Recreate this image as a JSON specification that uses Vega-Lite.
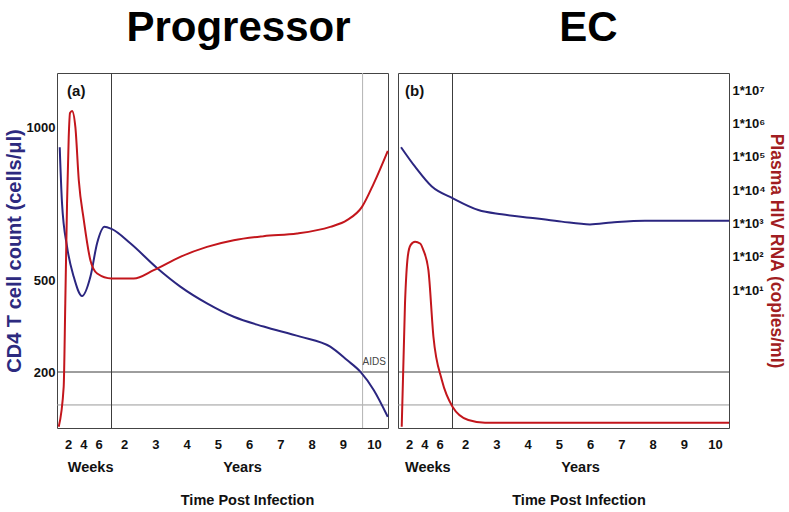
{
  "$schema": "https://vega.github.io/schema/vega-lite/v6.json",
  "background": "white",
  "padding": {"left": 3, "top": 6, "right": 0, "bottom": 0},
  "spacing": 3,
  "datasets": {
    "progressor_cd4": [
      {"week": 0.91, "cd4": 937}, {"week": 1.21, "cd4": 754}, {"week": 1.87, "cd4": 611},
      {"week": 2.75, "cd4": 512}, {"week": 3.84, "cd4": 449}, {"week": 4.93, "cd4": 512},
      {"week": 5.82, "cd4": 623}, {"week": 6.78, "cd4": 676}, {"week": 7.7, "cd4": 669},
      {"week": 114.5, "cd4": 622}, {"week": 158.9, "cd4": 541}, {"week": 197.7, "cd4": 480},
      {"week": 242.1, "cd4": 425}, {"week": 286.6, "cd4": 381}, {"week": 336.3, "cd4": 349},
      {"week": 397.2, "cd4": 316}, {"week": 447.2, "cd4": 283}, {"week": 475.1, "cd4": 239},
      {"week": 497.2, "cd4": 201}, {"week": 519.5, "cd4": 141}, {"week": 542.9, "cd4": 53}
    ],
    "progressor_rna": [
      {"week": 0.78, "log10_rna": -3.1}, {"week": 1.43, "log10_rna": -1.9}, {"week": 1.64, "log10_rna": 0.61},
      {"week": 1.87, "log10_rna": 3.61}, {"week": 2.09, "log10_rna": 5.6}, {"week": 2.26, "log10_rna": 6.32},
      {"week": 2.53, "log10_rna": 6.38}, {"week": 2.96, "log10_rna": 5.9}, {"week": 3.41, "log10_rna": 4.3},
      {"week": 4.07, "log10_rna": 3.1}, {"week": 4.93, "log10_rna": 1.9}, {"week": 5.82, "log10_rna": 1.5},
      {"week": 7.7, "log10_rna": 1.35}, {"week": 120.2, "log10_rna": 1.35}, {"week": 153.4, "log10_rna": 1.6},
      {"week": 197.7, "log10_rna": 2.0}, {"week": 242.1, "log10_rna": 2.3}, {"week": 286.6, "log10_rna": 2.5},
      {"week": 336.3, "log10_rna": 2.62}, {"week": 391.9, "log10_rna": 2.7}, {"week": 447.2, "log10_rna": 2.9},
      {"week": 475.1, "log10_rna": 3.1}, {"week": 500, "log10_rna": 3.5}, {"week": 519.5, "log10_rna": 4.2},
      {"week": 542.9, "log10_rna": 5.18}
    ],
    "ec_cd4": [
      {"week": 0.95, "cd4": 937}, {"week": 2.79, "cd4": 873}, {"week": 4.99, "cd4": 808},
      {"week": 7.7, "cd4": 770}, {"week": 126.2, "cd4": 731}, {"week": 165.1, "cd4": 717},
      {"week": 220.5, "cd4": 704}, {"week": 264.9, "cd4": 693}, {"week": 312, "cd4": 684},
      {"week": 348.1, "cd4": 690}, {"week": 403.5, "cd4": 696}, {"week": 459, "cd4": 696},
      {"week": 543.3, "cd4": 696}
    ],
    "ec_rna": [
      {"week": 1.04, "log10_rna": -3.1}, {"week": 1.47, "log10_rna": 0.6}, {"week": 1.83, "log10_rna": 2.0},
      {"week": 2.2, "log10_rna": 2.35}, {"week": 2.79, "log10_rna": 2.45}, {"week": 3.45, "log10_rna": 2.4},
      {"week": 3.88, "log10_rna": 2.2}, {"week": 4.54, "log10_rna": 1.6}, {"week": 5.2, "log10_rna": -0.4},
      {"week": 6.3, "log10_rna": -1.7}, {"week": 7.7, "log10_rna": -2.5}, {"week": 109.5, "log10_rna": -2.9},
      {"week": 137.3, "log10_rna": -2.98}, {"week": 543.3, "log10_rna": -2.98}
    ]
  },
  "hconcat": [
    {
      "width": 331,
      "height": 355,
      "title": {"text": "Progressor", "dx": 16},
      "resolve": {"scale": {"y": "independent"}, "axis": {"x": "independent"}},
      "layer": [
        {
          "layer": [
            {"data": {"values": [{"cd4": 92}]}, "mark": {"type": "rule", "color": "#9a9a9a", "strokeWidth": 1}, "encoding": {"y": {"field": "cd4", "type": "quantitative"}}},
            {"data": {"values": [{"cd4": 200}]}, "mark": {"type": "rule", "color": "#3c3c3c", "strokeWidth": 1}, "encoding": {"y": {"field": "cd4", "type": "quantitative"}}},
            {"data": {"values": [{"week": 7.7}]}, "mark": {"type": "rule", "color": "#3c3c3c", "strokeWidth": 1}, "encoding": {"x": {"field": "week", "type": "quantitative"}}},
            {"data": {"values": [{"week": 501}]}, "mark": {"type": "rule", "color": "#b4b4b4", "strokeWidth": 1}, "encoding": {"x": {"field": "week", "type": "quantitative"}}},
            {
              "data": {"name": "progressor_cd4"},
              "mark": {"type": "line", "interpolate": "monotone", "color": "#2b2680", "strokeWidth": 2},
              "encoding": {
                "x": {"field": "week", "type": "quantitative",
                  "scale": {"domain": [0.553, 7.7, 83.2, 543.3], "range": [0, 54.5, 54.5, 331], "nice": false, "zero": false},
                  "axis": {"values": [2, 4, 6, 104, 156, 208, 260, 312, 364, 416, 468, 520], "tickCount": 100, "labelExpr": "datum.value < 52 ? format(datum.value, 'd') : format(datum.value / 52, 'd')", "title": null, "labelPadding": 10, "labelFontSize": 13, "labelOverlap": false, "labelFlush": false, "labelBound": false}},
                "y": {"field": "cd4", "type": "quantitative",
                  "scale": {"domain": [16.4, 1180.3], "nice": false, "zero": false},
                  "axis": {"values": [200, 500, 1000], "tickCount": 100, "format": "d", "labelOverlap": false, "title": "CD4 T cell count (cells/μl)", "titleColor": "#2d2a7f", "titleFontSize": 20, "titlePadding": 2, "labelPadding": 2, "labelFontSize": 13}}
              }
            },
            {"data": {"values": [{"label": "(a)", "week": 1.87, "cd4": 1121}]}, "mark": {"type": "text", "align": "left", "baseline": "middle", "font": "Liberation Sans", "fontWeight": "bold", "fontSize": 15, "color": "#111"}, "encoding": {"x": {"field": "week", "type": "quantitative"}, "y": {"field": "cd4", "type": "quantitative"}, "text": {"field": "label"}}},
            {"data": {"values": [{"label": "AIDS", "week": 539.8, "cd4": 233}]}, "mark": {"type": "text", "align": "right", "baseline": "middle", "font": "Liberation Sans", "fontSize": 10, "color": "#444"}, "encoding": {"x": {"field": "week", "type": "quantitative"}, "y": {"field": "cd4", "type": "quantitative"}, "text": {"field": "label"}}}
          ]
        },
        {
          "data": {"name": "progressor_rna"},
          "mark": {"type": "line", "interpolate": "monotone", "color": "#c3161c", "strokeWidth": 2},
          "encoding": {
            "x": {"field": "week", "type": "quantitative",
              "scale": {"domain": [0.553, 7.7, 83.2, 543.3], "range": [0, 54.5, 54.5, 331], "nice": false, "zero": false},
              "axis": {"orient": "bottom", "values": [4.9, 300.4], "tickCount": 100, "labelExpr": "datum.value < 52 ? 'Weeks' : 'Years'", "labelFontSize": 14.5, "labelOverlap": false, "labelFlush": false, "offset": 30, "labelPadding": 2, "title": "Time Post Infection", "titleFontSize": 14.5, "titleX": 190, "titleY": 35, "titleBaseline": "top", "titleAlign": "center"}},
            "y": {"field": "log10_rna", "type": "quantitative", "scale": {"domain": [-3.14, 7.52], "nice": false, "zero": false}, "axis": null}
          }
        }
      ]
    },
    {
      "width": 331,
      "height": 355,
      "title": {"text": "EC", "dx": 25},
      "resolve": {"scale": {"y": "independent"}, "axis": {"x": "independent"}},
      "layer": [
        {
          "layer": [
            {"data": {"values": [{"cd4": 92}]}, "mark": {"type": "rule", "color": "#9a9a9a", "strokeWidth": 1}, "encoding": {"y": {"field": "cd4", "type": "quantitative", "axis": null}}},
            {"data": {"values": [{"cd4": 200}]}, "mark": {"type": "rule", "color": "#3c3c3c", "strokeWidth": 1}, "encoding": {"y": {"field": "cd4", "type": "quantitative", "axis": null}}},
            {"data": {"values": [{"week": 7.7}]}, "mark": {"type": "rule", "color": "#3c3c3c", "strokeWidth": 1}, "encoding": {"x": {"field": "week", "type": "quantitative"}}},
            {
              "data": {"name": "ec_cd4"},
              "mark": {"type": "line", "interpolate": "monotone", "color": "#2b2680", "strokeWidth": 2},
              "encoding": {
                "x": {"field": "week", "type": "quantitative",
                  "scale": {"domain": [0.553, 7.7, 83.2, 543.3], "range": [0, 54.5, 54.5, 331], "nice": false, "zero": false},
                  "axis": {"values": [2, 4, 6, 104, 156, 208, 260, 312, 364, 416, 468, 520], "tickCount": 100, "labelExpr": "datum.value < 52 ? format(datum.value, 'd') : format(datum.value / 52, 'd')", "title": null, "labelPadding": 10, "labelFontSize": 13, "labelOverlap": false, "labelFlush": false, "labelBound": false}},
                "y": {"field": "cd4", "type": "quantitative",
                  "scale": {"domain": [16.4, 1180.3], "nice": false, "zero": false},
                  "axis": null}
              }
            },
            {"data": {"values": [{"label": "(b)", "week": 1.47, "cd4": 1121}]}, "mark": {"type": "text", "align": "left", "baseline": "middle", "font": "Liberation Sans", "fontWeight": "bold", "fontSize": 15, "color": "#111"}, "encoding": {"x": {"field": "week", "type": "quantitative"}, "y": {"field": "cd4", "type": "quantitative", "axis": null}, "text": {"field": "label"}}}
          ]
        },
        {
          "data": {"name": "ec_rna"},
          "mark": {"type": "line", "interpolate": "monotone", "color": "#c3161c", "strokeWidth": 2},
          "encoding": {
            "x": {"field": "week", "type": "quantitative",
              "scale": {"domain": [0.553, 7.7, 83.2, 543.3], "range": [0, 54.5, 54.5, 331], "nice": false, "zero": false},
              "axis": {"orient": "bottom", "values": [4.4, 295.4], "tickCount": 100, "labelExpr": "datum.value < 52 ? 'Weeks' : 'Years'", "labelFontSize": 14.5, "labelOverlap": false, "labelFlush": false, "offset": 30, "labelPadding": 2, "title": "Time Post Infection", "titleFontSize": 14.5, "titleX": 180.5, "titleY": 35, "titleBaseline": "top", "titleAlign": "center"}},
            "y": {"field": "log10_rna", "type": "quantitative", "scale": {"domain": [-3.14, 7.52], "nice": false, "zero": false},
              "axis": {"orient": "right", "values": [1, 2, 3, 4, 5, 6, 7], "tickCount": 100, "labelOverlap": false, "labelExpr": "'1*10' + (datum.value == 1 ? '¹' : datum.value == 2 ? '²' : datum.value == 3 ? '³' : datum.value == 4 ? '⁴' : datum.value == 5 ? '⁵' : datum.value == 6 ? '⁶' : '⁷')", "labelAlign": "left", "labelPadding": 3, "labelFontSize": 13, "title": "Plasma HIV RNA (copies/ml)", "titleColor": "#a11d21", "titleFontSize": 17.5, "titlePadding": 1}}
          }
        }
      ]
    }
  ],
  "config": {
    "view": {"stroke": "#444", "strokeWidth": 1},
    "title": {"font": "Liberation Sans", "fontSize": 42, "fontWeight": "bold", "color": "#000", "anchor": "middle", "baseline": "alphabetic", "offset": 23},
    "axis": {"ticks": false, "domain": false, "grid": false, "labelFlush": false, "labelOverlap": false, "labelBound": false,
      "labelFont": "Liberation Sans", "labelFontWeight": "bold", "labelColor": "#111",
      "titleFont": "Liberation Sans", "titleFontWeight": "bold", "titleColor": "#111"}
  }
}
